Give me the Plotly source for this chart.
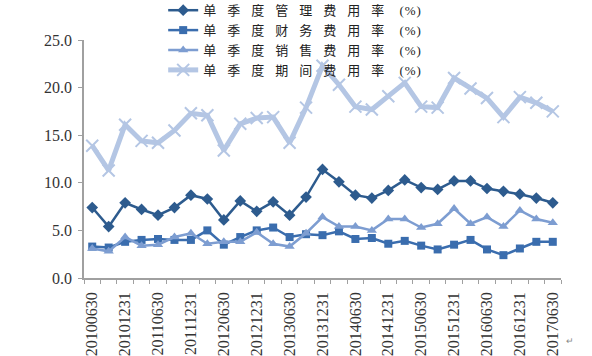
import plotly.graph_objects as go

quarters = ["20100630", "20100930", "20101231", "20110331", "20110630", "20110930",
            "20111231", "20120331", "20120630", "20120930", "20121231", "20130331",
            "20130630", "20130930", "20131231", "20140331", "20140630", "20140930",
            "20141231", "20150331", "20150630", "20150930", "20151231", "20160331",
            "20160630", "20160930", "20161231", "20170331", "20170630"]

tick_labels = ["20100630", "20101231", "20110630", "20111231", "20120630", "20121231",
               "20130630", "20131231", "20140630", "20141231", "20150630", "20151231",
               "20160630", "20161231", "20170630"]

series_names = ["单季度管理费用率 (%)", "单季度财务费用率 (%)",
                "单季度销售费用率 (%)", "单季度期间费用率 (%)"]

mgmt = [7.4, 5.4, 7.9, 7.2, 6.6, 7.4, 8.7, 8.3, 6.1, 8.1, 7.0, 8.0, 6.6, 8.5, 11.4,
        10.1, 8.7, 8.4, 9.2, 10.3, 9.5, 9.3, 10.2, 10.2, 9.4, 9.1, 8.8, 8.4, 7.9]
fin = [3.3, 3.2, 3.8, 4.0, 4.1, 4.0, 4.0, 5.0, 3.5, 4.3, 5.0, 5.3, 4.3, 4.6, 4.5,
       4.9, 4.1, 4.2, 3.6, 3.9, 3.4, 3.0, 3.5, 4.0, 3.0, 2.4, 3.1, 3.8, 3.8]
sales = [3.1, 2.8, 4.3, 3.4, 3.5, 4.3, 4.7, 3.6, 3.8, 3.8, 4.8, 3.6, 3.3, 4.7, 6.4,
         5.4, 5.4, 5.0, 6.2, 6.2, 5.3, 5.7, 7.3, 5.7, 6.4, 5.4, 7.1, 6.2, 5.8]
period = [13.9, 11.3, 16.1, 14.4, 14.2, 15.5, 17.3, 17.1, 13.4, 16.2, 16.8, 16.9, 14.2,
          17.9, 22.3, 20.3, 18.0, 17.7, 19.1, 20.5, 18.0, 17.9, 21.0, 19.9, 18.9, 16.9,
          19.0, 18.4, 17.5]

colors = ["#2D5B8E", "#3A6DAE", "#7D9DD1", "#B4C6E4"]

idx = list(range(len(quarters)))
label_pos = [quarters.index(t) for t in tick_labels]

fig = go.Figure()
fig.add_trace(go.Scatter(x=idx, y=mgmt, name=series_names[0], mode="lines+markers",
                         line=dict(color=colors[0], width=2.5),
                         marker=dict(symbol="diamond", size=9, color=colors[0])))
fig.add_trace(go.Scatter(x=idx, y=fin, name=series_names[1], mode="lines+markers",
                         line=dict(color=colors[1], width=2.5),
                         marker=dict(symbol="square", size=8, color=colors[1])))
fig.add_trace(go.Scatter(x=idx, y=sales, name=series_names[2], mode="lines+markers",
                         line=dict(color=colors[2], width=2.5),
                         marker=dict(symbol="triangle-up", size=9, color=colors[2])))
fig.add_trace(go.Scatter(x=idx, y=period, name=series_names[3], mode="lines+markers",
                         line=dict(color=colors[3], width=5),
                         marker=dict(symbol="x-thin", size=12, color=colors[3],
                                     line=dict(color=colors[3], width=2))))

boundaries = [i - 0.5 for i in range(len(quarters) + 1)]

fig.update_layout(
    width=592, height=356,
    margin=dict(l=84, r=31, t=40, b=78, autoexpand=False),
    paper_bgcolor="white", plot_bgcolor="white",
    showlegend=True,
    legend=dict(xref="paper", yref="paper", x=0.166, y=1.188,
                xanchor="left", yanchor="top", bgcolor="rgba(0,0,0,0)",
                font=dict(family="Liberation Serif, Noto Sans CJK SC", size=13, color="#222"),
                tracegroupgap=0, itemwidth=30),
    xaxis=dict(range=[-0.5, len(quarters) - 0.5], tickmode="array",
               tickvals=label_pos, ticktext=tick_labels, tickangle=-90,
               ticks="", showgrid=False, zeroline=False, ticklabelstandoff=6,
               showline=True, linecolor="#A0A0A0", linewidth=1.5,
               tickfont=dict(family="Liberation Serif", size=16, color="#333"),
               minor=dict(tickmode="array", tickvals=boundaries, ticks="outside",
                          ticklen=4, tickcolor="#A0A0A0", tickwidth=1.2, showgrid=False)),
    yaxis=dict(range=[0, 25], tickmode="linear", tick0=0, dtick=5, tickformat=".1f",
               ticks="outside", ticklen=4, tickcolor="#A0A0A0", tickwidth=1.2,
               showgrid=False, zeroline=False, ticklabelstandoff=3,
               showline=True, linecolor="#A0A0A0", linewidth=1.5,
               tickfont=dict(family="Liberation Serif", size=16, color="#333")),
    annotations=[dict(text="↵", xref="paper", yref="paper", x=1.031, y=-0.30,
                      showarrow=False, font=dict(size=9, color="#888"))],
)

post = """
var gd = document.getElementById('{plot_id}');
var NS = 'http://www.w3.org/2000/svg';
gd.querySelectorAll('.legend .scrollbox').forEach(function(s){ s.removeAttribute('clip-path'); });
gd.querySelectorAll('.legendtext').forEach(function(t){
  var s = t.textContent;
  var k = s.indexOf(' (');
  if (k < 0) { t.style.letterSpacing = '11px'; return; }
  while (t.firstChild) t.removeChild(t.firstChild);
  var a = document.createElementNS(NS, 'tspan');
  a.textContent = s.slice(0, k);
  a.style.letterSpacing = '11px';
  var b = document.createElementNS(NS, 'tspan');
  b.textContent = s.slice(k);
  b.style.letterSpacing = '1px';
  t.appendChild(a); t.appendChild(b);
});
"""

fig.write_html("out.html", post_script=post)
